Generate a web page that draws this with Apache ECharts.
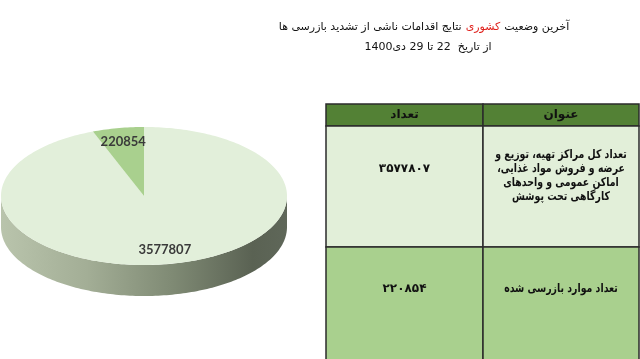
<!DOCTYPE html>
<html><head><meta charset="utf-8">
<script src="https://cdn.jsdelivr.net/npm/echarts@6/dist/echarts.min.js"></script>
<style>html,body{margin:0;padding:0;background:#fff}#c{width:640px;height:359px}</style>
</head><body><div id="c"></div>
<script>
// ---- data ----
const categories = ['تعداد کل مراکز تهیه، توزیع و عرضه و فروش مواد غذایی، اماکن عمومی و واحدهای کارگاهی تحت پوشش', 'تعداد موارد بازرسی شده'];
const categoryLines = [
  ['تعداد کل مراکز تهیه، توزیع و', 'عرضه و فروش مواد غذایی،', 'اماکن عمومی و واحدهای', 'کارگاهی تحت پوشش'],
  ['تعداد موارد بازرسی شده']
];
const values = [3577807, 220854];
const tableHeaders = ['عنوان', 'تعداد'];
const titleLine1 = ['آخرین وضعیت', 'کشوری', 'نتایج اقدامات ناشی از تشدید بازرسی ها'];
const titleLine2 = 'از تاریخ  22 تا 29 دی1400';

// ---- helpers ----
const rtl = s => '\u202B' + s + '\u202C';
const fa = s => String(s).replace(/[0-9]/g, d => '۰۱۲۳۴۵۶۷۸۹'[d]);
const AR = '"DejaVu Sans", sans-serif';

const chart = echarts.init(document.getElementById('c'), null, {renderer: 'canvas'});

const P = {cx: 144, cy: 196, rx: 143, ry: 69, depth: 31};
const total = values.reduce((a, b) => a + b, 0);
const starts = [];
let acc = 0;
values.forEach(v => { starts.push(acc / total * Math.PI * 2); acc += v; });
const sliceColors = ['#e2efda', '#a9d08e'];

function pt(a, dy) { return [P.cx + P.rx * Math.sin(a), P.cy - P.ry * Math.cos(a) + (dy || 0)]; }
function arc(a1, a2, dy) {
  const pts = []; const n = Math.max(2, Math.ceil((a2 - a1) / 0.02));
  for (let i = 0; i <= n; i++) pts.push(pt(a1 + (a2 - a1) * i / n, dy));
  return pts;
}

function renderItem(params, api) {
  const i = params.dataIndex;
  const v = api.value(0);
  const a1 = starts[i], a2 = a1 + v / total * Math.PI * 2;
  const children = [];
  const s1 = Math.max(a1, Math.PI / 2), s2 = Math.min(a2, Math.PI * 1.5);
  if (s2 > s1) {
    const top = arc(s1, s2, 0), bot = arc(s1, s2, P.depth).reverse();
    children.push({
      type: 'polygon', shape: {points: top.concat(bot)},
      style: {fill: {type: 'linear', x: P.cx + P.rx, y: 0, x2: P.cx - P.rx, y2: 0, global: true,
        colorStops: [{offset: 0, color: '#5f6759'}, {offset: 0.12, color: '#5a6253'}, {offset: 0.4, color: '#7f8a74'},
          {offset: 0.7, color: '#a3ae96'}, {offset: 1, color: '#b9c4ac'}]}}
    });
  }
  children.push({
    type: 'polygon', shape: {points: [[P.cx, P.cy]].concat(arc(a1, a2, 0))},
    style: {fill: sliceColors[i]}
  });
  const mid = (a1 + a2) / 2;
  children.push({
    type: 'text', z2: 10,
    style: {text: String(v), x: P.cx + 0.8 * P.rx * Math.sin(mid), y: P.cy - 0.8 * P.ry * Math.cos(mid),
      align: 'center', verticalAlign: 'middle', fontFamily: 'Lato, sans-serif', fontWeight: 'bold', fontSize: 13, fill: '#3a3a3a'}
  });
  return {type: 'group', children};
}

// ---- table graphic ----
const T = {x: [326, 483, 639], y: [104, 126, 247, 362]};
const rowFills = ['#e2efd9', '#a9d08e'];
const g = [];
const cellText = (t, x, y, extra, sx) => ({type: 'text', z: 20, x, y, scaleX: sx || 1,
  style: Object.assign({text: t, x: 0, y: 0, align: 'center', verticalAlign: 'middle', fontFamily: AR, fontWeight: 'bold', fontSize: 12, fill: '#111'}, extra || {})});
for (let c = 0; c < 2; c++) {
  g.push({type: 'rect', z: 10, shape: {x: T.x[c], y: T.y[0], width: T.x[c + 1] - T.x[c], height: T.y[1] - T.y[0]},
    style: {fill: '#538135', stroke: '#2b2b2b', lineWidth: 1.5}});
  for (let r = 0; r < 2; r++) {
    g.push({type: 'rect', z: 10, shape: {x: T.x[c], y: T.y[r + 1], width: T.x[c + 1] - T.x[c], height: T.y[r + 2] - T.y[r + 1]},
      style: {fill: rowFills[r], stroke: '#2b2b2b', lineWidth: 1.5}});
  }
}
const colC = [(T.x[0] + T.x[1]) / 2, (T.x[1] + T.x[2]) / 2];
g.push(cellText(rtl(tableHeaders[1]), colC[0], 115));
g.push(cellText(rtl(tableHeaders[0]), colC[1], 115));
const rowCY = [176, 289];
for (let r = 0; r < 2; r++) {
  g.push(cellText(rtl(fa(values[r])), colC[0], r === 0 ? 169 : 289));
  g.push(cellText(categoryLines[r].map(rtl).join('\n'), colC[1], rowCY[r], {lineHeight: 14}, 0.78));
}
// title
g.push({type: 'text', z: 20, style: {
  text: '{b|' + rtl(titleLine1[2]) + '}{r|' + rtl(titleLine1[1]) + '}{b|' + rtl(titleLine1[0]) + '}',
  x: 424, y: 27, align: 'center', verticalAlign: 'middle',
  rich: {b: {fontFamily: AR, fontSize: 11, fill: '#111'}, r: {fontFamily: AR, fontSize: 11, fill: '#e0201b', padding: [0, 4]}}
}});
g.push({type: 'text', z: 20, style: {text: rtl(titleLine2), x: 428, y: 47, align: 'center', verticalAlign: 'middle',
  fontFamily: AR, fontSize: 11, fill: '#111'}});

chart.setOption({
  animation: false,
  series: [{
    type: 'custom', coordinateSystem: 'none', renderItem,
    data: values.map((v, i) => ({name: categories[i], value: [v]}))
  }],
  graphic: g
});
</script></body></html>
